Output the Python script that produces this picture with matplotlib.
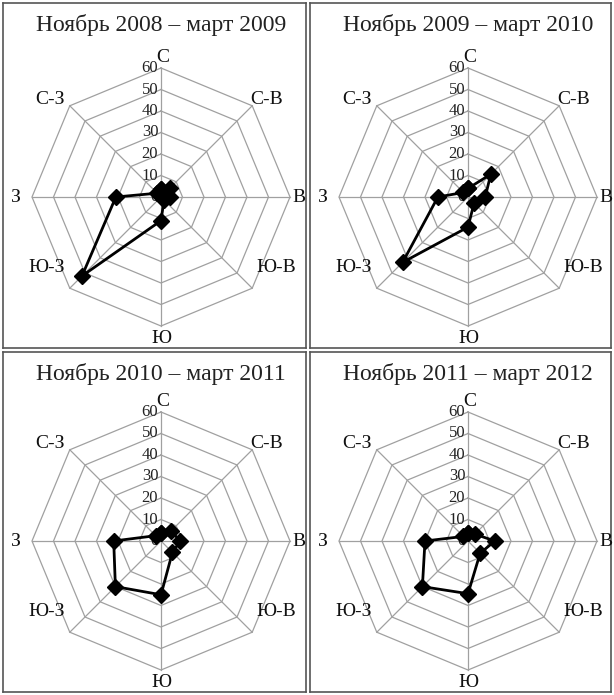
import numpy as np
import matplotlib.pyplot as plt

plt.rcParams["font.family"] = ["Liberation Serif", "DejaVu Serif"]

# directions, clockwise from north
directions = ["С", "С-В", "В", "Ю-В", "Ю", "Ю-З", "З", "С-З"]
ring_values = [0, 10, 20, 30, 40, 50, 60]

titles = [
    "Ноябрь 2008 – март 2009",
    "Ноябрь 2009 – март 2010",
    "Ноябрь 2010 – март 2011",
    "Ноябрь 2011 – март 2012",
]
winter_2008 = [3.5, 6, 4, 2, 11, 52, 21, 2.5]
winter_2009 = [4, 15, 8, 4, 14, 43, 14, 3]
winter_2010 = [3.5, 6.5, 9, 7.5, 25, 30, 22, 3.5]
winter_2011 = [3.5, 4.5, 12.5, 8, 24.5, 30, 20, 3]
series = [winter_2008, winter_2009, winter_2010, winter_2011]

W, H = 614, 695
SCALE = 129 / 60  # px per unit

# panel boxes in pixels (left, top, right, bottom) and radar centres
boxes = [(3, 3, 306, 348), (310, 3, 611, 348), (3, 352, 306, 692), (310, 352, 611, 692)]
centres = [(161, 197), (468, 197), (161, 541), (468, 541)]

# label placement: ha, va, dx, dy (pixels)
label_pos = {
    "С": ("center", "bottom", 2, 2),
    "С-В": ("left", "center", -2, 6),
    "В": ("left", "center", 2, 0),
    "Ю-В": ("left", "center", 4, 21),
    "Ю": ("center", "top", 0, -4),
    "Ю-З": ("right", "center", -5, 21),
    "З": ("right", "center", -11, 0),
    "С-З": ("right", "center", -5, 6),
}
PT = 0.72

angles = np.arange(len(directions)) * 2 * np.pi / len(directions)

fig = plt.figure(figsize=(W / 100, H / 100), dpi=100)

for box, (cx, cy), title, vals in zip(boxes, centres, titles, series):
    l, t, r, b = box
    ax = fig.add_axes([l / W, 1 - b / H, (r - l) / W, (b - t) / H])
    ax.set_xlim((l - cx) / SCALE, (r - cx) / SCALE)
    ax.set_ylim((cy - b) / SCALE, (cy - t) / SCALE)
    ax.set_xticks([])
    ax.set_yticks([])
    for sp in ax.spines.values():
        sp.set_color("#555555")
        sp.set_linewidth(1.2)

    sx, cy_ = np.sin(angles), np.cos(angles)
    # octagonal grid
    for rv in ring_values[1:]:
        ax.plot(np.append(rv * sx, rv * sx[0]), np.append(rv * cy_, rv * cy_[0]),
                color="#a0a0a0", lw=0.9, zorder=1)
    rmax = ring_values[-1]
    for xs, ys in zip(rmax * sx, rmax * cy_):
        ax.plot([0, xs], [0, ys], color="#a0a0a0", lw=0.9, zorder=1)

    # radial tick labels
    for rv in ring_values:
        ax.annotate(str(rv), (0, rv), xytext=(-2, 0), textcoords="offset points",
                    ha="right", va="center", fontsize=12, color="#222222", zorder=2)

    # direction labels
    for name, xs, ys in zip(directions, rmax * sx, rmax * cy_):
        ha, va, dx, dy = label_pos[name]
        ax.annotate(name, (xs, ys), xytext=(dx * PT, dy * PT), textcoords="offset points",
                    ha=ha, va=va, fontsize=14, color="#111111")

    v = np.array(vals)
    x = np.append(v * sx, v[0] * sx[0])
    y = np.append(v * cy_, v[0] * cy_[0])
    ax.plot(x, y, color="black", lw=2, marker="D", markersize=8, zorder=3)

    ax.text(0, (cy - (t + 22)) / SCALE, title, ha="center", va="center",
            fontsize=17, color="#222222")

fig.savefig("out.png", dpi=100)
